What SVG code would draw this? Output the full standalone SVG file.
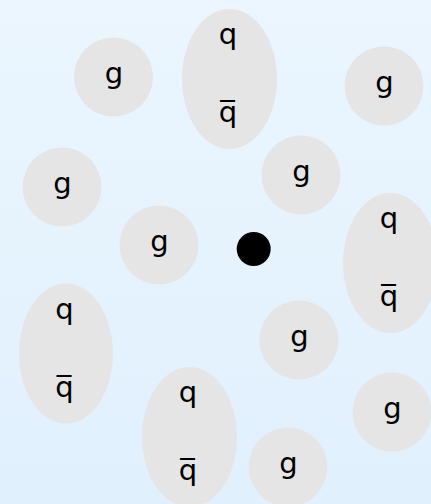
<svg xmlns="http://www.w3.org/2000/svg" width="431" height="504" viewBox="0 0 431 504">
<defs>
<linearGradient id="bg" x1="0" y1="0" x2="0" y2="1">
<stop offset="0" stop-color="#EBF6FE"/>
<stop offset="1" stop-color="#E0F0FD"/>
</linearGradient>
</defs>
<style>
.n{fill:#E5E5E5}
.t{font-family:"DejaVu Sans",sans-serif;font-size:29px;fill:#000;text-anchor:middle}
</style>
<rect width="431" height="504" fill="url(#bg)"/>
<g id="connectors"></g>
<g id="meson1"><ellipse class="n" cx="229.5" cy="79" rx="47.5" ry="70"/><text class="t" x="228" y="44">q</text><text class="t" x="228" y="122">q&#x0305;</text></g>
<g id="meson2"><ellipse class="n" cx="390.5" cy="263" rx="47.5" ry="70"/><text class="t" x="389" y="228">q</text><text class="t" x="389" y="306">q&#x0305;</text></g>
<g id="meson3"><ellipse class="n" cx="66" cy="353.5" rx="47" ry="70"/><text class="t" x="64.5" y="318.5">q</text><text class="t" x="64.5" y="396.5">q&#x0305;</text></g>
<g id="meson4"><ellipse class="n" cx="189.5" cy="437" rx="47.5" ry="70"/><text class="t" x="188" y="402">q</text><text class="t" x="188" y="480">q&#x0305;</text></g>
<g id="g1"><circle class="n" cx="113.5" cy="77" r="39.5"/><text class="t" x="114" y="83">g</text></g>
<g id="g2"><circle class="n" cx="384" cy="86" r="39.5"/><text class="t" x="384.5" y="92">g</text></g>
<g id="g3"><circle class="n" cx="62" cy="187" r="39.5"/><text class="t" x="62.5" y="193">g</text></g>
<g id="g4"><circle class="n" cx="301" cy="175" r="39.5"/><text class="t" x="301.5" y="181">g</text></g>
<g id="g5"><circle class="n" cx="159" cy="245" r="39.5"/><text class="t" x="159.5" y="251">g</text></g>
<g id="g6"><circle class="n" cx="299" cy="340" r="39.5"/><text class="t" x="299.5" y="346">g</text></g>
<g id="g7"><circle class="n" cx="392" cy="412" r="39.5"/><text class="t" x="392.5" y="418">g</text></g>
<g id="g8"><circle class="n" cx="288" cy="467" r="39.5"/><text class="t" x="288.5" y="473">g</text></g>
<g id="center"><circle cx="253.7" cy="249" r="17" fill="#000"/></g>
</svg>
